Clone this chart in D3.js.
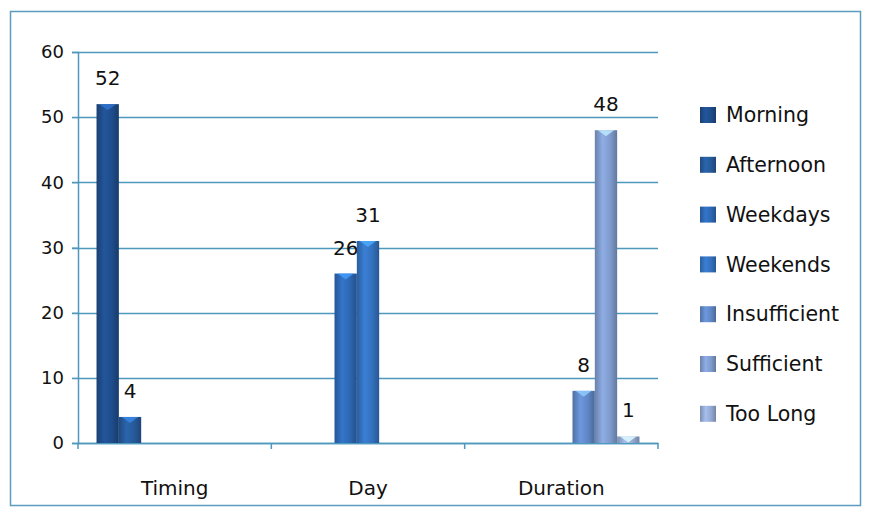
<!DOCTYPE html>
<html lang="en">
<head>
<meta charset="UTF-8">
<title>Chart</title>
<script src="https://cdn.jsdelivr.net/npm/d3@7"></script>
<style>
  body { margin: 0; background: #fff; }
  text { font-family: "DejaVu Sans", sans-serif; fill: #111; }
</style>
</head>
<body>
<svg id="chart" width="869" height="515"></svg>
<script>
// data
var categories = ["Timing", "Day", "Duration"];
var series = ["Morning", "Afternoon", "Weekdays", "Weekends", "Insufficient", "Sufficient", "Too Long"];
var seriesCategory = ["Timing", "Timing", "Day", "Day", "Duration", "Duration", "Duration"];
var values = [52, 4, 26, 31, 8, 48, 1];
var yTicks = [0, 10, 20, 30, 40, 50, 60];
var colors = ["#1f4c8a", "#265999", "#2d67b2", "#3370bc", "#5f86c4", "#7e9acb", "#93a9d2"];

var svg = d3.select("#chart");
var plotLeft = 78, plotRight = 658, plotTop = 52, plotBottom = 443;
var font = "'DejaVu Sans', sans-serif";

// outer frame
svg.append("rect").attr("x", 10.5).attr("y", 11.5).attr("width", 850).attr("height", 494)
  .attr("fill", "none").attr("stroke", "#5b9cc0").attr("stroke-width", 1.5);

var x0 = d3.scaleBand().domain(categories).range([plotLeft, plotRight]).padding(0);
var x1 = d3.scaleBand().domain(series).range([0, x0.bandwidth()]).paddingInner(0).paddingOuter(0.83);
var y = d3.scaleLinear().domain([0, 60]).range([plotBottom, plotTop]);

// gradients for the cylinder look
var defs = svg.append("defs");
series.forEach(function(s, i) {
  var c = d3.color(colors[i]);
  var g = defs.append("linearGradient").attr("id", "g" + i).attr("x1", "0").attr("x2", "1").attr("y1", "0").attr("y2", "0");
  g.append("stop").attr("offset", "0%").attr("stop-color", c.darker(0.5));
  g.append("stop").attr("offset", "35%").attr("stop-color", c.brighter(0.35));
  g.append("stop").attr("offset", "70%").attr("stop-color", c);
  g.append("stop").attr("offset", "100%").attr("stop-color", c.darker(0.7));
});

// gridlines
svg.append("g").selectAll("line").data(yTicks).enter().append("line")
  .attr("x1", plotLeft - 6).attr("x2", plotRight)
  .attr("y1", function(d) { return Math.round(y(d)) + 0.5; })
  .attr("y2", function(d) { return Math.round(y(d)) + 0.5; })
  .attr("stroke", "#4d98bd").attr("stroke-width", 1.5);

// y axis
var yAxis = svg.append("g").attr("transform", "translate(" + plotLeft + ",0)")
  .call(d3.axisLeft(y).tickValues(yTicks).tickSize(6).tickPadding(8));
yAxis.select(".domain").attr("stroke", "#4d98bd").attr("stroke-width", 1.5);
yAxis.selectAll(".tick line").attr("stroke", "#4d98bd");
yAxis.selectAll(".tick text").attr("font-size", 18).style("font-family", font).attr("fill", "#111");

// x axis
var xAxis = svg.append("g").attr("transform", "translate(0," + plotBottom + ")")
  .call(d3.axisBottom(x0).tickSize(0).tickPadding(38));
xAxis.select(".domain").attr("stroke", "#4d98bd").attr("stroke-width", 1.5);
xAxis.selectAll(".tick text").attr("font-size", 20).style("font-family", font).attr("fill", "#111");
// category separator ticks
svg.append("g").selectAll("line").data([0, 1, 2, 3]).enter().append("line")
  .attr("x1", function(d) { return plotLeft + d * x0.bandwidth(); })
  .attr("x2", function(d) { return plotLeft + d * x0.bandwidth(); })
  .attr("y1", plotBottom).attr("y2", plotBottom + 6).attr("stroke", "#4d98bd").attr("stroke-width", 1.5);

// bars
var bars = svg.append("g").selectAll("g").data(series).enter().append("g");
bars.append("rect")
  .attr("x", function(d, i) { return x0(seriesCategory[i]) + x1(d); })
  .attr("y", function(d, i) { return y(values[i]); })
  .attr("width", x1.bandwidth())
  .attr("height", function(d, i) { return plotBottom - y(values[i]); })
  .attr("fill", function(d, i) { return "url(#g" + i + ")"; });
// small highlight on bar top
bars.append("path")
  .attr("d", function(d, i) {
    var bx = x0(seriesCategory[i]) + x1(d), by = y(values[i]), w = x1.bandwidth();
    var h = Math.min(6, plotBottom - by);
    return "M" + (bx + 3) + "," + by + "L" + (bx + w - 3) + "," + by + "L" + (bx + w / 2) + "," + (by + h) + "Z";
  })
  .attr("fill", function(d, i) { return d3.color(colors[i]).brighter(1.2); })
  .attr("opacity", 0.8);

// value labels
bars.append("text")
  .attr("x", function(d, i) { return x0(seriesCategory[i]) + x1(d) + x1.bandwidth() / 2; })
  .attr("y", function(d, i) { return y(values[i]) - 19; })
  .attr("text-anchor", "middle")
  .attr("font-size", 20)
  .text(function(d, i) { return values[i]; });

// legend
var legend = svg.append("g").selectAll("g").data(series).enter().append("g")
  .attr("transform", function(d, i) { return "translate(700," + (115 + i * 49.8) + ")"; });
legend.append("rect").attr("x", 0).attr("y", -8).attr("width", 16).attr("height", 16)
  .attr("fill", function(d, i) { return "url(#g" + i + ")"; });
legend.append("text").attr("x", 26).attr("dy", "0.35em").attr("font-size", 20.5)
  .text(function(d) { return d; });
</script>
</body>
</html>
